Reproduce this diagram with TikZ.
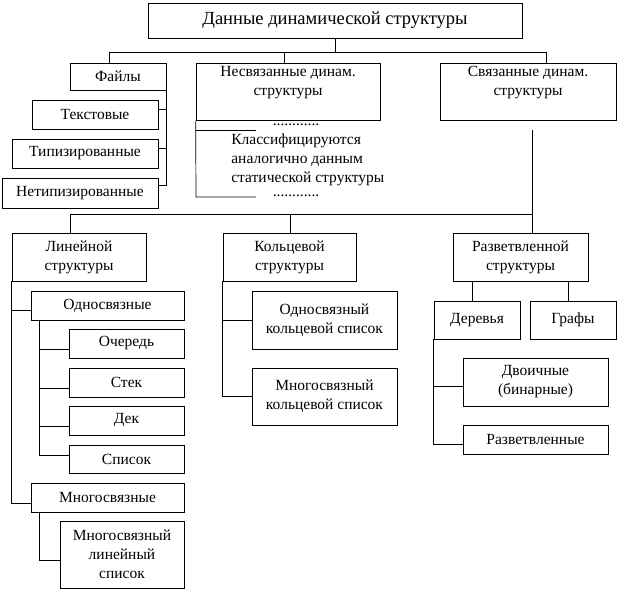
\documentclass[tikz,border=0pt]{standalone}
\usepackage{fontspec}
\setmainfont{Liberation Serif}
\begin{document}
\begin{tikzpicture}[x=1pt,y=-1pt,line width=0.7pt,
  box/.style={draw,inner sep=1pt,align=center,font=\fontsize{15.5}{19}\selectfont},
  txt/.style={inner sep=0pt,font=\fontsize{15.5}{19}\selectfont}]
\useasboundingbox (0,0) rectangle (620,592);
% top
\node[box,minimum width=374pt,minimum height=35pt,font=\fontsize{18.5}{22}\selectfont] (title) at (335,20.5) {Данные динамической структуры};
\node[box,minimum width=96pt,minimum height=27pt] (fajly) at (118,76.5) {Файлы};
\node[box,minimum width=184pt,minimum height=57pt,anchor=north,inner sep=3pt] (nesv) at (288,63) {Несвязанные динам.\\структуры\\[-3pt]\strut};
\node[box,minimum width=176pt,minimum height=57pt,anchor=north,inner sep=3pt] (sv) at (528,63) {Связанные динам.\\структуры\\[-3pt]\strut};
\node[box,minimum width=126pt,minimum height=29pt] (text) at (95,114.5) {Текстовые};
\node[box,minimum width=146pt,minimum height=29pt] (tip) at (85,153.5) {Типизированные};
\node[box,minimum width=156pt,minimum height=30pt] (netip) at (80,193) {Нетипизированные};
\coordinate (b1) at (109,52);
\coordinate (b2) at (546,52);
\draw (title.south) -- (title.south |- b1);
\draw (b1 |- fajly.north) -- (b1) -- (b2) -- (b2 |- sv.north);
\draw (284,52) -- (284,63);
\draw (fajly.south east) -- ([yshift=-8pt]netip.north east -| fajly.east) -- ([yshift=-8pt]netip.north east);
\draw ([yshift=-10pt]text.north east) -- ([yshift=-10pt]text.north east -| fajly.east);
\draw ([yshift=-10pt]tip.north east) -- ([yshift=-10pt]tip.north east -| fajly.east);
% nesv
\coordinate (n1) at (196,130);
\coordinate (n2) at (196,197);
\draw (nesv.south west) -- (n2) -- ++(60,0);
\draw (n1) -- ++(60,0);
\node[txt] (dots1) at (296,125) {............};
\node[txt] (dots2) at (296,196) {............};
\node[txt,anchor=north west,align=left,font=\fontsize{15.5}{19}\selectfont] (klass) at (231,133) {Классифицируются\\аналогично данным\\статической структуры};
% bottom
\node[box,minimum width=134pt,minimum height=48pt] (lin) at (79,257) {Линейной\\структуры};
\node[box,minimum width=133pt,minimum height=48pt] (kol) at (289.5,257) {Кольцевой\\структуры};
\node[box,minimum width=135pt,minimum height=48pt] (razv) at (520.5,257) {Разветвленной\\структуры};
\coordinate (s1) at (532,130);
\coordinate (c1) at (70,214);
\coordinate (c2) at (532,214);
\draw (s1) -- (c2) -- (c1) -- (c1 |- lin.north);
\draw (c2) -- (c2 |- razv.north);
\draw (290,214) -- (290,233);
% linear
\node[box,minimum width=153pt,minimum height=29pt] (odn) at (107.5,305.5) {Односвязные};
\node[box,minimum width=115pt,minimum height=29pt] (och) at (126.5,343.5) {Очередь};
\node[box,minimum width=115pt,minimum height=29pt] (stek) at (126.5,382.5) {Стек};
\node[box,minimum width=115pt,minimum height=29pt] (dek) at (126.5,420.5) {Дек};
\node[box,minimum width=115pt,minimum height=28pt] (spis) at (126.5,459) {Список};
\node[box,minimum width=153pt,minimum height=29pt] (mnog) at (107.5,497.5) {Многосвязные};
\node[box,minimum width=124pt,minimum height=67pt] (mls) at (122,554.5) {Многосвязный\\линейный\\список};
\draw (lin.south west) |- ([yshift=-5.5pt]mnog.west);
\draw ([yshift=-4.5pt]odn.west) -- ++(-19,0);
\draw ([xshift=9pt]odn.south west) |- ([yshift=4pt]spis.west);
\foreach \n in {och,stek,dek} \draw ([yshift=-5.5pt]\n.west) -- ++(-29,0);
\draw ([xshift=9pt]mnog.south west) |- ([yshift=-5.5pt]mls.west);
% ring
\node[box,minimum width=145pt,minimum height=58pt] (ok) at (324.5,320) {Односвязный\\кольцевой список};
\node[box,minimum width=145pt,minimum height=57pt] (mk) at (324.5,396.5) {Многосвязный\\кольцевой список};
\draw (kol.south west) |- (mk.west);
\draw (ok.west) -- (ok.west -| kol.west);
% branch
\node[box,minimum width=86pt,minimum height=38pt] (der) at (477,320) {Деревья};
\node[box,minimum width=86pt,minimum height=38pt] (graf) at (573,320) {Графы};
\node[box,minimum width=145pt,minimum height=48pt] (dv) at (535.5,382) {Двоичные\\(бинарные)};
\node[box,minimum width=145pt,minimum height=29pt] (rz) at (535.5,439.5) {Разветвленные};
\draw (472,281) -- (472,301);
\draw (568,281) -- (568,301);
\draw (der.south west) |- ([yshift=-4.5pt]rz.west);
\draw ([yshift=-4pt]dv.west) -- ++(-29,0);
\end{tikzpicture}
\end{document}
